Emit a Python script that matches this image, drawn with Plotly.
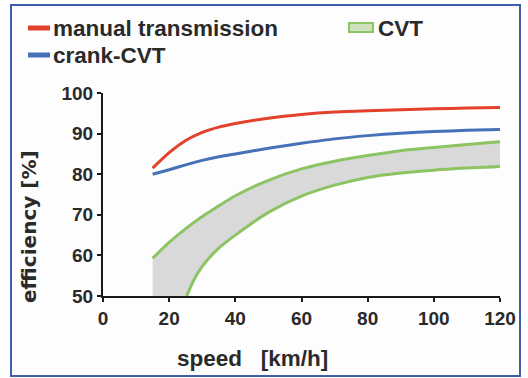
import plotly.graph_objects as go

# ---- data ----
speed = [15, 20, 25, 30, 35, 40, 50, 60, 70, 80, 90, 100, 110, 120]
eff_manual = [81.5, 85.3, 88.3, 90.3, 91.6, 92.5, 93.8, 94.7, 95.3, 95.6, 95.9, 96.1, 96.3, 96.4]
eff_crank = [80.0, 81.1, 82.3, 83.4, 84.3, 85.0, 86.4, 87.6, 88.7, 89.5, 90.1, 90.5, 90.8, 91.0]
cvt_upper = [59.3, 63.2, 66.6, 69.6, 72.2, 74.7, 78.5, 81.3, 83.2, 84.6, 85.8, 86.6, 87.3, 88.0]
speed_cvt_low = [25.3, 27.5, 30, 35, 40, 50, 60, 70, 80, 90, 100, 110, 120]
cvt_lower = [50.0, 54.0, 57.3, 61.8, 65.0, 70.6, 74.6, 77.3, 79.2, 80.3, 81.0, 81.5, 81.9]
band_corner = (15, 50)

x_ticks = [0, 20, 40, 60, 80, 100, 120]
y_ticks = [50, 60, 70, 80, 90, 100]

RED = "#e2412c"
BLUE = "#4670b8"
GREEN = "#8dc463"
GRAY = "#d9d9d9"
TXT = "#2a2a2a"
FONT = "Liberation Sans"

W, H = 528, 378
L, R, T, B = 103, 28, 93, 82
PW, PH = W - L - R, H - T - B


def px(x):
    return (x - L) / PW


def py(y):
    return (H - B - y) / PH


fig = go.Figure()

# CVT band
band_x = speed + speed_cvt_low[::-1] + [band_corner[0]]
band_y = cvt_upper + cvt_lower[::-1] + [band_corner[1]]
fig.add_trace(go.Scatter(x=band_x, y=band_y, fill="toself", fillcolor=GRAY,
                         line=dict(width=0, shape="spline", smoothing=0.8),
                         mode="lines", hoverinfo="skip", showlegend=False))
fig.add_trace(go.Scatter(x=speed, y=cvt_upper, mode="lines", name="CVT",
                         line=dict(color=GREEN, width=3, shape="spline", smoothing=0.8),
                         showlegend=False))
fig.add_trace(go.Scatter(x=speed_cvt_low, y=cvt_lower, mode="lines", name="CVT",
                         line=dict(color=GREEN, width=3, shape="spline", smoothing=0.8),
                         showlegend=False))
fig.add_trace(go.Scatter(x=speed, y=eff_crank, mode="lines", name="crank-CVT",
                         line=dict(color=BLUE, width=3, shape="spline", smoothing=0.6),
                         showlegend=False))
fig.add_trace(go.Scatter(x=speed, y=eff_manual, mode="lines", name="manual transmission",
                         line=dict(color=RED, width=3, shape="spline", smoothing=0.6),
                         showlegend=False))

shapes = [
    # outer frame
    dict(type="rect", xref="paper", yref="paper", x0=px(11), x1=px(520), y0=py(376), y1=py(5),
         line=dict(color="#3f5fae", width=2), fillcolor="#fdfdfd", layer="below"),
    # legend markers
    dict(type="line", xref="paper", yref="paper", x0=px(28), x1=px(50), y0=py(28), y1=py(28),
         line=dict(color=RED, width=5)),
    dict(type="line", xref="paper", yref="paper", x0=px(28), x1=px(50), y0=py(55), y1=py(55),
         line=dict(color=BLUE, width=5)),
    dict(type="rect", xref="paper", yref="paper", x0=px(349), x1=px(373), y0=py(32), y1=py(23),
         line=dict(color=GREEN, width=2), fillcolor="#cfe0bf"),
]

legend_font = dict(family=FONT, size=22.5, color=TXT, weight="bold")
annotations = [
    dict(text="manual transmission", xref="paper", yref="paper", x=px(51), y=py(29),
         xanchor="left", yanchor="middle", showarrow=False, font=legend_font),
    dict(text="crank-CVT", xref="paper", yref="paper", x=px(51), y=py(55),
         xanchor="left", yanchor="middle", showarrow=False, font=legend_font),
    dict(text="CVT", xref="paper", yref="paper", x=px(376), y=py(29),
         xanchor="left", yanchor="middle", showarrow=False, font=legend_font),
    # axis titles
    dict(text="speed   [km/h]", xref="paper", yref="paper", x=px(252), y=py(358),
         xanchor="center", yanchor="middle", showarrow=False,
         font=dict(family=FONT, size=22.5, color=TXT, weight="bold")),
    dict(text="efficiency [%]", xref="paper", yref="paper", x=px(29), y=py(227),
         xanchor="center", yanchor="middle", showarrow=False, textangle=-90,
         font=dict(family="DejaVu Sans", size=20, color=TXT, weight="bold")),
]

fig.update_layout(
    width=W, height=H,
    margin=dict(l=L, r=R, t=T, b=B, autoexpand=False),
    paper_bgcolor="white",
    plot_bgcolor="rgba(0,0,0,0)",
    shapes=shapes,
    annotations=annotations,
    showlegend=False,
)

tick_font = dict(family=FONT, size=19, color=TXT, weight="bold")

fig.update_xaxes(range=[0, 120], tickvals=x_ticks, ticktext=[str(v) for v in x_ticks],
                 showline=True, linecolor="#1a1a1a", linewidth=2, mirror=False,
                 ticks="outside", ticklen=4, tickwidth=2, tickcolor="#1a1a1a",
                 showgrid=False, zeroline=False, tickfont=tick_font)
fig.update_yaxes(range=[50, 100], tickvals=y_ticks, ticktext=[str(v) for v in y_ticks],
                 showline=True, linecolor="#1a1a1a", linewidth=2, mirror=False,
                 ticks="outside", ticklen=4, tickwidth=2, tickcolor="#1a1a1a",
                 showgrid=False, zeroline=False, tickfont=tick_font)

fig.write_html("out.html", config={"displayModeBar": False},
               post_script="document.body.style.margin='0';")
